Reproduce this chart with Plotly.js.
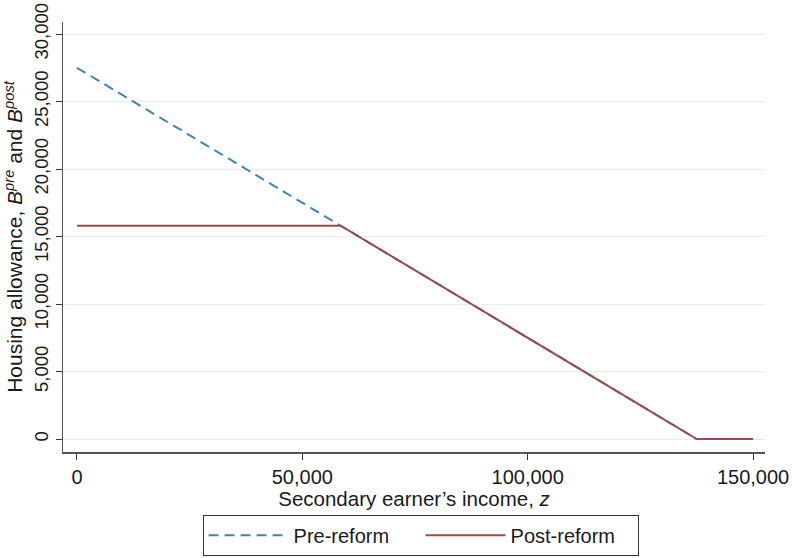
<!DOCTYPE html>
<html>
<head>
<meta charset="utf-8">
<script src="https://cdn.plot.ly/plotly-3.0.1.min.js"></script>
<style>html,body{margin:0;padding:0;background:#fff;}#chart{width:792px;height:558px;}</style>
</head>
<body>
<div id="chart"></div>
<script>
// Data
const preX = [0, 137500, 150000];
const preY = [27500, 0, 0];
const postX = [0, 58500, 137500, 150000];
const postY = [15800, 15800, 0, 0];
const xTicks = [0, 50000, 100000, 150000];
const xTickLabels = ["0", "50,000", "100,000", "150,000"];
const yTicks = [0, 5000, 10000, 15000, 20000, 25000, 30000];
const yTickLabels = ["0", "5,000", "10,000", "15,000", "20,000", "25,000", "30,000"];

const FONT = "Liberation Sans, Arial, sans-serif";

const traces = [
  {x: preX, y: preY, mode: "lines", name: "Pre-reform",
   line: {color: "#3f86ac", width: 2, dash: "10px,6px"}},
  {x: postX, y: postY, mode: "lines", name: "Post-reform",
   line: {color: "#9c4a4c", width: 2}}
];

const layout = {
  width: 792, height: 558,
  paper_bgcolor: "#ffffff", plot_bgcolor: "#ffffff",
  font: {family: FONT, color: "#1a1a1a", size: 17},
  margin: {l: 63, r: 27, t: 22, b: 106, autoexpand: false},
  showlegend: true,
  xaxis: {
    range: [-3100, 152650],
    tickvals: xTicks, ticktext: xTickLabels,
    ticks: "outside", ticklen: 6, tickcolor: "#333", tickwidth: 1,
    showline: true, linecolor: "#555", linewidth: 1.5,
    showgrid: false, zeroline: false,
    tickfont: {size: 20},
    automargin: false,
    title: {text: "Secondary earner\u2019s income, <i>z</i>", font: {size: 20.5}, standoff: 0}
  },
  yaxis: {
    range: [-960, 30890],
    tickvals: yTicks, ticktext: yTickLabels,
    tickangle: -90,
    ticks: "outside", ticklen: 6, tickcolor: "#333", tickwidth: 1,
    showline: true, linecolor: "#555", linewidth: 1.5,
    showgrid: true, gridcolor: "#e6edf2", gridwidth: 1,
    zeroline: false,
    tickfont: {size: 18.5},
    automargin: false,
    title: {text: "Housing allowance, <i>B</i><sup><i>pre</i></sup> and <i>B</i><sup><i>post</i></sup>", font: {size: 21}, standoff: 2}
  },
  legend: {
    orientation: "h", xref: "container", yref: "container",
    x: 0.531, xanchor: "center", y: 0.004, yanchor: "bottom",
    bordercolor: "#333", borderwidth: 1, bgcolor: "#fff",
    font: {size: 20}, itemwidth: 80,
    entrywidth: 122, entrywidthmode: "pixels"
  }
};

Plotly.newPlot("chart", traces, layout, {displayModeBar: false, staticPlot: true});
</script>
</body>
</html>
